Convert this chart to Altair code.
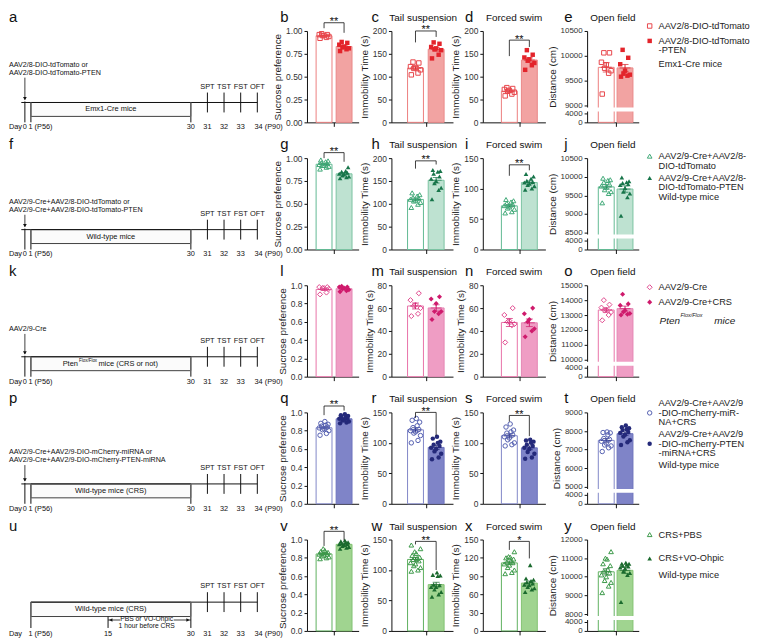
import altair as alt
import numpy as np
import pandas as pd

FONT = "Liberation Sans"
H = 92

# ---------------- data ----------------
R1_SUC_A = [0.97, 0.96, 0.96, 0.95, 0.95, 0.94, 0.93, 0.92]
R1_SUC_B = [0.88, 0.87, 0.85, 0.83, 0.82, 0.81, 0.80, 0.78]
R1_TST_A = [132, 130, 122, 120, 118, 115, 108, 104]
R1_TST_B = [175, 172, 165, 162, 160, 158, 148, 140]
R1_FST_A = [76, 74, 72, 70, 68, 66, 62, 58]
R1_FST_B = [158, 148, 142, 138, 135, 130, 125, 115]
R1_OFT_A = [10060, 10060, 9870, 9820, 9750, 9700, 9650, 9230]
R1_OFT_B = [10120, 9960, 9830, 9700, 9640, 9620, 9600, 9580]

R2_SUC_A = [0.98, 0.97, 0.96, 0.95, 0.94, 0.93, 0.92, 0.92, 0.91, 0.90, 0.88]
R2_SUC_B = [0.90, 0.86, 0.85, 0.84, 0.83, 0.82, 0.81, 0.80, 0.79, 0.78]
R2_TST_A = [124, 120, 117, 114, 112, 110, 108, 106, 103, 99, 92]
R2_TST_B = [174, 172, 170, 166, 160, 155, 150, 145, 135, 130, 110]
R2_FST_A = [82, 80, 78, 76, 74, 72, 70, 68, 66, 62, 60]
R2_FST_B = [124, 120, 116, 113, 111, 110, 108, 106, 104, 100, 98]
R2_OFT_A = [9960, 9920, 9900, 9850, 9800, 9750, 9720, 9650, 9600, 9550, 9300]
R2_OFT_B = [9980, 9880, 9850, 9830, 9800, 9780, 9700, 9600, 9550, 9450, 8950]

R3_SUC_A = [0.98, 0.98, 0.97, 0.97, 0.96, 0.92, 0.90]
R3_SUC_B = [0.99, 0.98, 0.98, 0.97, 0.96, 0.95, 0.94, 0.93]
R3_TST_A = [73, 67, 63, 62, 60, 55, 53]
R3_TST_B = [70, 68, 64, 57, 57, 55, 50]
R3_FST_A = [60, 54, 49, 48, 46, 45, 30]
R3_FST_B = [60, 55, 50, 48, 42, 40, 35]
R3_OFT_A = [14000, 13700, 13500, 13350, 13300, 13200, 13000, 12650]
R3_OFT_B = [14400, 13750, 13650, 13300, 13200, 13100, 13050, 13000]

R4_SUC_A = [0.90, 0.88, 0.87, 0.86, 0.85, 0.84, 0.83, 0.82, 0.81, 0.80, 0.77, 0.75]
R4_SUC_B = [0.98, 0.97, 0.96, 0.95, 0.94, 0.93, 0.93, 0.92, 0.91, 0.90, 0.89, 0.88]
R4_TST_A = [140, 137, 134, 128, 125, 122, 120, 118, 116, 112, 104, 100]
R4_TST_B = [110, 107, 102, 100, 97, 95, 92, 90, 86, 82, 76, 73]
R4_FST_A = [131, 126, 121, 118, 116, 113, 110, 108, 105, 100, 97, 95]
R4_FST_B = [105, 104, 102, 100, 97, 95, 92, 90, 85, 82, 76, 74]
R4_OFT_A = [7950, 7920, 7900, 7800, 7600, 7550, 7450, 7350, 7250, 7200, 7100, 6900]
R4_OFT_B = [8300, 8200, 8150, 8100, 8050, 7950, 7900, 7800, 7700, 7500, 7400, 7250]

R5_SUC_A = [0.90, 0.88, 0.87, 0.86, 0.86, 0.85, 0.84, 0.84, 0.83, 0.82, 0.81, 0.80, 0.79]
R5_SUC_B = [0.99, 0.98, 0.97, 0.97, 0.96, 0.95, 0.95, 0.94, 0.93, 0.92, 0.91, 0.90]
R5_TST_A = [141, 135, 130, 127, 124, 121, 119, 117, 115, 112, 110, 107, 104, 100, 98]
R5_TST_B = [96, 92, 91, 90, 76, 72, 75, 72, 68, 64, 60, 56]
R5_FST_A = [130, 122, 121, 120, 118, 115, 113, 112, 110, 108, 104, 100, 96, 94]
R5_FST_B = [108, 86, 84, 82, 80, 78, 76, 75, 72, 70, 68, 64]
R5_OFT_A = [11350, 11000, 10950, 10700, 10600, 10400, 10300, 10200, 10100, 10000, 9800, 9700, 9500, 9150]
R5_OFT_B = [10750, 10700, 10700, 10650, 10600, 10550, 10500, 10450, 10300, 10200, 10100, 8650]

LETTERS = [["a", "b", "c", "d", "e"], ["f", "g", "h", "i", "j"], ["k", "l", "m", "n", "o"],
           ["p", "q", "r", "s", "t"], ["u", "v", "w", "x", "y"]]
PANEL_TITLES = ["Tail suspension", "Forced swim", "Open field"]
Y_TITLES = ["Sucrose preference", "Immobility Time (s)", "Immobility Time (s)", "Distance (cm)"]

TL_INJ = [["AAV2/8-DIO-tdTomato or", "AAV2/8-DIO-tdTomato-PTEN"],
          ["AAV2/9-Cre+AAV2/8-DIO-tdTomato or", "AAV2/9-Cre+AAV2/8-DIO-tdTomato-PTEN"],
          ["AAV2/9-Cre"],
          ["AAV2/9-Cre+AAV2/9-DIO-mCherry-miRNA or", "AAV2/9-Cre+AAV2/9-DIO-mCherry-PTEN-miRNA"],
          []]
TL_BOX = ["Emx1-Cre mice", "Wild-type mice", "", "Wild-type mice (CRS)", "Wild-type mice (CRS)"]
TL_PTEN = ["Pten", "Flox/Flox", "mice (CRS or not)"]
TL_TESTS = ["SPT", "TST", "FST", "OFT"]
TL_TEST_DAYS = [31, 32, 33, 34]
TL_DAYS = [("Day", -2), ("0", 0), ("1 (P56)", 1), ("30", 30), ("31", 31), ("32", 32), ("33", 33), ("34 (P90)", 34)]
TL_DAYS5 = [("Day", -2), ("1 (P56)", 1), ("15", 15), ("30", 30), ("31", 31), ("32", 32), ("33", 33), ("34 (P90)", 34)]
TL_TREAT = ["PBS or VO-Ohpic", "1 hour before CRS"]

LEG_A = [["AAV2/8-DIO-tdTomato"], ["AAV2/9-Cre+AAV2/8-", "DIO-tdTomato"], ["AAV2/9-Cre"],
         ["AAV2/9-Cre+AAV2/9", "-DIO-mCherry-miR-", "NA+CRS"], ["CRS+PBS"]]
LEG_B = [["AAV2/8-DIO-tdTomato", "-PTEN"], ["AAV2/9-Cre+AAV2/8-", "DIO-tdTomato-PTEN"], ["AAV2/9-Cre+CRS"],
         ["AAV2/9-Cre+AAV2/9", "-DIO-mCherry-PTEN", "-miRNA+CRS"], ["CRS+VO-Ohpic"]]
LEG_M = ["Emx1-Cre mice", "Wild-type mice", "", "Wild-type mice", "Wild-type mice"]
LEG_PTEN = ["Pten", "Flox/Flox", "mice"]

DATA = [
    [(R1_SUC_A, R1_SUC_B), (R1_TST_A, R1_TST_B), (R1_FST_A, R1_FST_B), (R1_OFT_A, R1_OFT_B)],
    [(R2_SUC_A, R2_SUC_B), (R2_TST_A, R2_TST_B), (R2_FST_A, R2_FST_B), (R2_OFT_A, R2_OFT_B)],
    [(R3_SUC_A, R3_SUC_B), (R3_TST_A, R3_TST_B), (R3_FST_A, R3_FST_B), (R3_OFT_A, R3_OFT_B)],
    [(R4_SUC_A, R4_SUC_B), (R4_TST_A, R4_TST_B), (R4_FST_A, R4_FST_B), (R4_OFT_A, R4_OFT_B)],
    [(R5_SUC_A, R5_SUC_B), (R5_TST_A, R5_TST_B), (R5_FST_A, R5_FST_B), (R5_OFT_A, R5_OFT_B)],
]

# ---------------- axis / layout configuration ----------------
P25 = dict(dom=[0, 1], vals=[0, 0.25, 0.5, 0.75, 1.0], fmt=".2f")
P20 = dict(dom=[0, 1], vals=[0, 0.2, 0.4, 0.6, 0.8, 1.0], fmt=".1f")


def lin(top, step):
    return dict(dom=[0, top], vals=list(range(0, top + 1, step)), fmt="d")


YCFG = [
    [dict(P25, br=(1.09, 1.03, 0.98, "**")), dict(lin(200, 50), br=(200, 175, 187, "**")),
     dict(lin(200, 50), br=(180, 145, 165, "**")), dict(brk=(9000, 10500, 500))],
    [dict(P25, br=(1.06, 1.0, 0.96, "**")), dict(lin(200, 50), br=(194, 177, 186, "**")),
     dict(lin(150, 50), br=(139, 121, 130, "**")), dict(brk=(8500, 10500, 500))],
    [dict(P20), dict(lin(80, 20)), dict(lin(80, 20)), dict(brk=(10000, 15000, 1000))],
    [dict(P20, br=(1.07, 0.97, 1.02, "**")), dict(lin(150, 50), br=(150, 141, 112, "**")),
     dict(lin(150, 50), br=(145, 135, 111, "**")), dict(brk=(5000, 9000, 1000))],
    [dict(P20, br=(1.09, 0.93, 0.99, "**")), dict(lin(150, 50), br=(147, 142, 100, "**")),
     dict(lin(150, 30), br=(147, 133, 119, "*")), dict(brk=(8000, 12000, 1000))],
]

COL_W = [52, 62, 63, 52]
COL_POS = [(0.29, 0.77, 0.52), (0.37, 0.77, 0.57), (0.41, 0.79, 0.60), (0.34, 0.79, 0.56)]
LETTER_DX = [-27, -20, -18, -23]
TITLE_DX = [0, 1, 0, 0]
JIT_PX = [-5, 3, 6, -2, 0, -6, 4, -3, 2, 5, -4, 1, -1, 6, -5]
GAP_PX, LOW_PX = 8, 9

STYLES = [
    dict(shape="square", size=20, pt="#E3242B", opt="#E8474C", sa="#EC7F7F", fb="#F2A3A2", sb="#EA8989", err="#D42026"),
    dict(shape="triangle-up", size=22, pt="#17754A", opt="#3FA877", sa="#62B993", fb="#BEE2D1", sb="#7CC4A2", err="#17754A"),
    dict(shape="diamond", size=26, pt="#CF1A6C", opt="#E04A8E", sa="#E873A8", fb="#EF9DC4", sb="#E586B4", err="#CF1A6C"),
    dict(shape="circle", size=20, pt="#24297A", opt="#5560B0", sa="#8187C8", fb="#7F84C8", sb="#6E74BD", err="#24297A"),
    dict(shape="triangle-up", size=22, pt="#1B6A2E", opt="#3E9A4C", sa="#60B060", fb="#A0D490", sb="#83C373", err="#1B6A2E"),
]


def text_layer(txt, x, y, size, align="left", style="normal", color="#111", baseline="alphabetic"):
    return alt.Chart(pd.DataFrame({"t": [txt]})).mark_text(
        align=align, baseline=baseline, fontSize=size, fontStyle=style, color=color
    ).encode(text="t:N", x=alt.value(x), y=alt.value(y))


def panel(r, c):
    a, b = DATA[r][c]
    cfg = YCFG[r][c]
    st = STYLES[r]
    W = COL_W[c]
    pa, pb, ptick = COL_POS[c]

    rows = []
    for grp, vals, pos in (("A", a, pa), ("B", b, pb)):
        order = np.argsort(vals)
        for rank, idx in enumerate(order):
            rows.append({"grp": grp, "val": vals[idx], "xc": pos, "jx": pos + JIT_PX[rank % len(JIT_PX)] / W})
    df = pd.DataFrame(rows)

    brk = cfg.get("brk")
    if brk:
        U0, U1, step = brk
        p = (H - GAP_PX - LOW_PX) / (U1 - U0)
        gapD = GAP_PX / p
        k = (LOW_PX / p) / 4000
        dmin = U0 - (GAP_PX + LOW_PX) / p
        ydom = [dmin, U1]
        d4000 = U0 - gapD
        vals = [dmin, d4000] + list(range(U0, U1 + 1, step))
        mid = (dmin + d4000) / 2

        def disp(f):
            return f"datum.{f} >= {U0} ? datum.{f} : {d4000} - (4000 - datum.{f}) * {k}"
        yaxis = alt.Axis(values=vals, title=Y_TITLES[c], grid=False, labelOverlap=False, labelFlush=False,
                         labelFontSize=8,
                         labelExpr=f"datum.value >= {U0 - 1} ? format(datum.value, 'd') : (datum.value > {mid} ? '4000' : '0')")
    else:
        ydom = cfg["dom"]

        def disp(f):
            return f"datum.{f}"
        yaxis = alt.Axis(values=cfg["vals"], title=Y_TITLES[c], format=cfg["fmt"], grid=False,
                         labelOverlap=False, labelFlush=False)

    yscale = alt.Scale(domain=ydom, nice=False, zero=False)
    xaxis = alt.Axis(values=[ptick], labels=False, title=None, tickSize=4, grid=False)
    xscale = alt.Scale(domain=[0, 1], nice=False, zero=False)

    def X(f):
        return alt.X(f"{f}:Q", scale=xscale, axis=xaxis)

    def Y(f):
        return alt.Y(f"{f}:Q", scale=yscale, axis=yaxis)

    base = alt.Chart(df)
    agg = (base.transform_aggregate(m="mean(val)", sd="stdev(val)", n="count()", groupby=["grp", "xc"])
           .transform_calculate(lo="datum.m - datum.sd / sqrt(datum.n)", hi="datum.m + datum.sd / sqrt(datum.n)")
           .transform_calculate(dm=disp("m"), dlo=disp("lo"), dhi=disp("hi"), z=str(ydom[0])))

    layers = []
    layers.append(agg.transform_filter("datum.grp == 'A'").mark_bar(size=16, fill="white", stroke=st["sa"], strokeWidth=1)
                  .encode(x=X("xc"), y=Y("dm"), y2=alt.Y2("z")))
    layers.append(agg.transform_filter("datum.grp == 'B'").mark_bar(size=16, fill=st["fb"], stroke=st["sb"], strokeWidth=1)
                  .encode(x=X("xc"), y=Y("dm"), y2=alt.Y2("z")))
    if brk:
        gdf = pd.DataFrame({"g0": [U0 - gapD * 0.75], "g1": [U0 - gapD * 0.25]})
        layers.append(alt.Chart(gdf).mark_rect(fill="white").encode(
            x=alt.value(-3), x2=alt.value(W + 2), y=Y("g0"), y2=alt.Y2("g1")))
    layers.append(agg.mark_rule(color=st["err"], strokeWidth=1).encode(x=X("xc"), y=Y("dlo"), y2=alt.Y2("dhi")))
    layers.append(agg.mark_tick(orient="horizontal", size=7, thickness=1, color=st["err"]).encode(x=X("xc"), y=Y("dlo")))
    layers.append(agg.mark_tick(orient="horizontal", size=7, thickness=1, color=st["err"]).encode(x=X("xc"), y=Y("dhi")))
    layers.append(agg.mark_tick(orient="horizontal", size=11, thickness=1, color=st["err"]).encode(x=X("xc"), y=Y("dm")))
    layers.append(base.transform_filter("datum.grp == 'A'").transform_calculate(dv=disp("val"))
                  .mark_point(shape=st["shape"], size=st["size"], filled=False, strokeWidth=1, color=st["opt"], opacity=1)
                  .encode(x=X("jx"), y=Y("dv")))
    layers.append(base.transform_filter("datum.grp == 'B'").transform_calculate(dv=disp("val"))
                  .mark_point(shape=st["shape"], size=st["size"], filled=True, color=st["pt"], opacity=1)
                  .encode(x=X("jx"), y=Y("dv")))

    br = cfg.get("br")
    if br:
        L, L1, L2, star = br
        bdf = pd.DataFrame({"x": [pa, pa, pb], "x2": [pb, pa, pb], "y": [L, L1, L2], "y2": [L, L, L]})
        layers.append(alt.Chart(bdf).mark_rule(color="#111", strokeWidth=0.8)
                      .encode(x=X("x"), x2=alt.X2("x2"), y=Y("y"), y2=alt.Y2("y2")))
        sdf = pd.DataFrame({"x": [(pa + pb) / 2], "y": [L], "t": [star]})
        layers.append(alt.Chart(sdf).mark_text(fontSize=11, baseline="alphabetic", dy=2.5, color="#111")
                      .encode(x=X("x"), y=Y("y"), text="t:N"))

    layers.append(text_layer(LETTERS[r][c + 1], LETTER_DX[c], -9, 15))
    if c > 0:
        layers.append(text_layer(PANEL_TITLES[c - 1], W / 2 + TITLE_DX[c], -10, 10, align="center"))
    return alt.layer(*layers).properties(width=W, height=H)


TL_W = 300
TL_INJ_Y = [34, 44, 44, 40, 0]


def timeline(r):
    tx_scale = alt.Scale(domain=[0, 1, 30, 34], range=[16, 22, 183, 250], nice=False, zero=False)
    ty_scale = alt.Scale(domain=[0, H], range=[0, H], nice=False, zero=False)

    def X(f):
        return alt.X(f"{f}:Q", scale=tx_scale, axis=None)

    def Y(f):
        return alt.Y(f"{f}:Q", scale=ty_scale, axis=None)

    def day_texts(labels, y):
        out = []
        for lab, d in labels:
            if lab == "Day":
                out.append(dict(x=-2.67, y=y, t=lab, fs=7.4, al="left"))
            elif "(" in lab:
                shift = 0.4 if d == 1 else 0.17
                out.append(dict(x=d - shift, y=y, t=lab, fs=7.4, al="left"))
            else:
                out.append(dict(x=d, y=y, t=lab, fs=7.4, al="center"))
        return out

    rules, rects, heads, texts = [], [], [], []
    if r < 4:
        yl = 72
        rects.append(dict(x=1, x2=30, y=yl, y2=yl + 14))
        rules.append(dict(x=-0.6, x2=34, y=yl, y2=yl, sw=1.0, c="#111"))
        rules.append(dict(x=0, x2=0, y=yl - 1, y2=H, sw=1.0, c="#111"))
        rules.append(dict(x=1, x2=1, y=yl, y2=H, sw=1.6, c="#666"))
        rules.append(dict(x=30, x2=30, y=yl, y2=H, sw=1.6, c="#666"))
        for d in TL_TEST_DAYS:
            rules.append(dict(x=d, x2=d, y=yl - 10, y2=yl + 10, sw=1.0, c="#111"))
        iy = TL_INJ_Y[r]
        for i, line in enumerate(TL_INJ[r]):
            texts.append(dict(x=-2.67, y=iy + 8 * i, t=line, fs=7.2, al="left"))
        ay = iy + 8 * (len(TL_INJ[r]) - 1) + 5
        rules.append(dict(x=0, x2=0, y=ay, y2=yl - 3, sw=0.8, c="#111"))
        heads.append(dict(x=0, y=yl - 4, s="triangle-down"))
        texts += day_texts(TL_DAYS, H + 5)
        if TL_BOX[r]:
            texts.append(dict(x=15.5, y=yl + 7, t=TL_BOX[r], fs=7.5, al="center"))
        ylab = yl - 16
    else:
        yl = 63
        rects.append(dict(x=1, x2=30, y=yl, y2=yl + 14.5))
        rules.append(dict(x=1, x2=34, y=yl, y2=yl, sw=1.0, c="#111"))
        rules.append(dict(x=1, x2=1, y=yl, y2=H - 3, sw=1.6, c="#666"))
        rules.append(dict(x=15, x2=15, y=yl + 14.5, y2=H - 3, sw=1.0, c="#111"))
        rules.append(dict(x=30, x2=30, y=yl, y2=H - 3, sw=1.6, c="#666"))
        for d in TL_TEST_DAYS:
            rules.append(dict(x=d, x2=d, y=yl - 10, y2=yl + 10, sw=1.0, c="#111"))
        rules.append(dict(x=15, x2=17.2, y=yl + 18, y2=yl + 18, sw=0.8, c="#111"))
        rules.append(dict(x=26.9, x2=30, y=yl + 18, y2=yl + 18, sw=0.8, c="#111"))
        heads.append(dict(x=15.5, y=yl + 18, s="triangle-left"))
        heads.append(dict(x=29.5, y=yl + 18, s="triangle-right"))
        texts.append(dict(x=22, y=yl + 17.5, t=TL_TREAT[0], fs=6.8, al="center"))
        texts.append(dict(x=22, y=yl + 24, t=TL_TREAT[1], fs=6.8, al="center"))
        texts += day_texts(TL_DAYS5, H + 3)
        texts.append(dict(x=15.5, y=yl + 7.3, t=TL_BOX[r], fs=7.5, al="center"))
        ylab = yl - 16
    for d, t in zip(TL_TEST_DAYS, TL_TESTS):
        texts.append(dict(x=d, y=ylab, t=t, fs=7.5, al="center"))

    layers = [
        alt.Chart(pd.DataFrame(rects)).mark_rect(fill="#fbfbfb", stroke="#111", strokeWidth=0.8)
        .encode(x=X("x"), x2=alt.X2("x2"), y=Y("y"), y2=alt.Y2("y2")),
        alt.Chart(pd.DataFrame(rules)).mark_rule()
        .encode(x=X("x"), x2=alt.X2("x2"), y=Y("y"), y2=alt.Y2("y2"),
                strokeWidth=alt.StrokeWidth("sw:Q", scale=None), color=alt.Color("c:N", scale=None)),
        alt.Chart(pd.DataFrame(heads)).mark_point(filled=True, size=14, color="#111", opacity=1)
        .encode(x=X("x"), y=Y("y"), shape=alt.Shape("s:N", scale=None)),
    ]
    tdf = pd.DataFrame(texts)
    for al in ("left", "center"):
        sub = tdf[tdf["al"] == al]
        if len(sub):
            layers.append(alt.Chart(sub).mark_text(align=al, baseline="middle", color="#111")
                          .encode(x=X("x"), y=Y("y"), text="t:N", size=alt.Size("fs:Q", scale=None)))
    if r == 2:
        layers.append(text_layer(TL_PTEN[0], 54, 72 + 7, 7.5, baseline="middle"))
        layers.append(text_layer(TL_PTEN[1], 70.5, 72 + 4.5, 4.5, baseline="middle"))
        layers.append(text_layer(TL_PTEN[2], 90, 72 + 7, 7.5, baseline="middle"))
    layers.append(text_layer(LETTERS[r][0], 0, -9, 15))
    return alt.layer(*layers).properties(width=TL_W, height=H)


LEG_W = 108
LEG_Y = [(-5, 10, 33), (-2, 20, 39), (2, 17, 36), (-9, 22, 53), (-5, 19, 36)]
LEG_MK_LINE = [0, 0, 0, 1, 0]


def legend(r):
    st = STYLES[r]
    sx = alt.Scale(domain=[0, LEG_W], range=[0, LEG_W], nice=False, zero=False)
    sy = alt.Scale(domain=[0, H], range=[0, H], nice=False, zero=False)
    yA, yB, yM = LEG_Y[r]
    lh = 9.5
    texts = []
    for i, t in enumerate(LEG_A[r]):
        texts.append(dict(x=20, y=yA + lh * i, t=t))
    for i, t in enumerate(LEG_B[r]):
        texts.append(dict(x=20, y=yB + lh * i, t=t))
    if LEG_M[r]:
        texts.append(dict(x=20, y=yM, t=LEG_M[r]))
    mk = LEG_MK_LINE[r]
    mdf = pd.DataFrame({"x": [11, 11], "y": [yA + lh * mk, yB + lh * mk], "g": ["A", "B"]})

    def X(f):
        return alt.X(f"{f}:Q", scale=sx, axis=None)

    def Y(f):
        return alt.Y(f"{f}:Q", scale=sy, axis=None)
    layers = [
        alt.Chart(mdf).transform_filter("datum.g == 'A'")
        .mark_point(shape=st["shape"], size=st["size"], filled=False, strokeWidth=1, color=st["opt"], opacity=1)
        .encode(x=X("x"), y=Y("y")),
        alt.Chart(mdf).transform_filter("datum.g == 'B'")
        .mark_point(shape=st["shape"], size=st["size"], filled=True, color=st["pt"], opacity=1)
        .encode(x=X("x"), y=Y("y")),
        alt.Chart(pd.DataFrame(texts)).mark_text(align="left", baseline="middle", fontSize=9.3, color="#222")
        .encode(x=X("x"), y=Y("y"), text="t:N"),
    ]
    if r == 2:
        layers.append(text_layer(LEG_PTEN[0], 21, yM, 10, style="italic", baseline="middle", color="#222"))
        layers.append(text_layer(LEG_PTEN[1], 42, yM - 6, 5.5, style="italic", baseline="middle", color="#222"))
        layers.append(text_layer(LEG_PTEN[2], 76, yM, 10, style="italic", baseline="middle", color="#222"))
    return alt.layer(*layers).properties(width=LEG_W, height=H)


def spacer(w):
    return alt.Chart(pd.DataFrame({"s": [0]})).mark_point(opacity=0).encode(
        x=alt.value(0), y=alt.value(0)).properties(width=w, height=H)


cells = []
for r in range(5):
    cells += [timeline(r), panel(r, 0), spacer(33), panel(r, 1), spacer(30), panel(r, 2), spacer(42),
              panel(r, 3), legend(r)]

chart = alt.concat(*cells, columns=9, spacing={"row": 36, "column": 0}, bounds="flush", align="each").properties(
    padding=0
).configure(font=FONT).configure_view(stroke=None).configure_axis(
    labelFontSize=8.5, titleFontSize=10, labelColor="#333", titleColor="#222", titleFontWeight="normal",
    domainColor="#111", tickColor="#111", tickSize=3, labelPadding=2, titlePadding=3
)

chart.save("out.html", embed_options={"renderer": "svg", "actions": False})
